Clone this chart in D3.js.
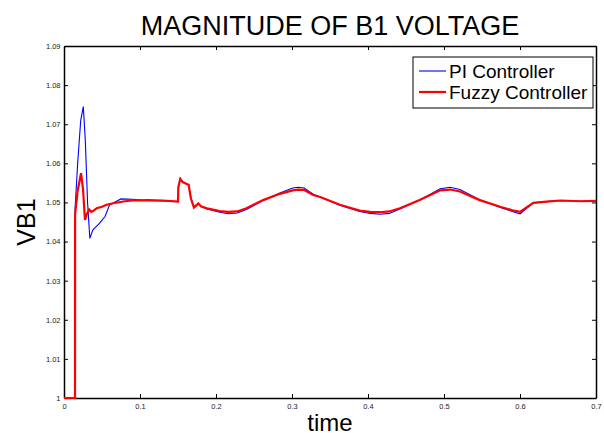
<!DOCTYPE html>
<html lang="en">
<head>
<meta charset="utf-8">
<script src="https://d3js.org/d3.v7.min.js"></script>
<title>Magnitude of B1 voltage</title>
<style>
    body { margin: 0; background: #fff; }
    text { font-family: Arial, "Liberation Sans", sans-serif; }
</style>
</head>
<body>
<div id="container"></div>
<script>
    // values
    var xTicks = [0, 0.1, 0.2, 0.3, 0.4, 0.5, 0.6, 0.7];
    var yTicks = [1, 1.01, 1.02, 1.03, 1.04, 1.05, 1.06, 1.07, 1.08, 1.09];

    var piTime = [0, 0.0145, 0.0146, 0.018, 0.022, 0.0254, 0.028, 0.031, 0.034, 0.038, 0.046, 0.054,
        0.060, 0.066, 0.075, 0.090, 0.110, 0.130, 0.150, 0.1505, 0.153, 0.156, 0.1615, 0.164, 0.167,
        0.171, 0.1767, 0.180, 0.188, 0.205, 0.216, 0.228, 0.240, 0.262, 0.284, 0.301, 0.308, 0.316,
        0.328, 0.337, 0.363, 0.389, 0.403, 0.416, 0.428, 0.442, 0.468, 0.495, 0.508, 0.521, 0.547,
        0.574, 0.590, 0.600, 0.6175, 0.635, 0.653, 0.680, 0.700];
    var piVolt = [1, 1, 1.0486, 1.060, 1.071, 1.0745, 1.066, 1.050, 1.0408, 1.043, 1.0445, 1.0464,
        1.0494, 1.0500, 1.0509, 1.0508, 1.0505, 1.0504, 1.0502, 1.0540, 1.0562, 1.0553, 1.0547, 1.0545, 1.051,
        1.0489, 1.0498, 1.0491, 1.0483, 1.0475, 1.0471, 1.0473, 1.0482, 1.0505, 1.0524, 1.0537, 1.0539, 1.0537,
        1.0521, 1.0514, 1.0493, 1.0477, 1.0472, 1.0470, 1.0472, 1.0483, 1.0506, 1.0535, 1.0539, 1.0533, 1.0507,
        1.0487, 1.0477, 1.0471, 1.0499, 1.0502, 1.0505, 1.0503, 1.0504];

    var fuzzyTime = [0, 0.0145, 0.0146, 0.018, 0.0224, 0.025, 0.0276, 0.030, 0.033, 0.036, 0.038, 0.043,
        0.050, 0.056, 0.065, 0.080, 0.090, 0.110, 0.130, 0.150, 0.1505, 0.153, 0.156, 0.1615, 0.164, 0.167,
        0.171, 0.1767, 0.180, 0.188, 0.205, 0.216, 0.228, 0.240, 0.262, 0.284, 0.301, 0.308, 0.316,
        0.328, 0.337, 0.363, 0.389, 0.403, 0.416, 0.428, 0.442, 0.468, 0.495, 0.508, 0.521, 0.547,
        0.574, 0.590, 0.600, 0.6175, 0.635, 0.653, 0.680, 0.700];
    var fuzzyVolt = [1, 1, 1.0470, 1.053, 1.0575, 1.0535, 1.0455, 1.0470, 1.0482, 1.0476, 1.0478, 1.0485,
        1.0489, 1.0494, 1.0498, 1.0503, 1.0505, 1.0506, 1.0505, 1.0502, 1.0540, 1.0560, 1.0552, 1.0547, 1.0545, 1.051,
        1.0487, 1.0497, 1.0490, 1.0485, 1.0478, 1.0476, 1.0477, 1.0485, 1.0506, 1.0522, 1.0531, 1.0533, 1.0532,
        1.0519, 1.0514, 1.0494, 1.0479, 1.0476, 1.0475, 1.0477, 1.0485, 1.0506, 1.0531, 1.0533, 1.0528, 1.0506,
        1.0489, 1.0480, 1.0476, 1.0499, 1.0502, 1.0505, 1.0503, 1.0504];

    var margin = {top: 46, right: 8, bottom: 35, left: 64},
        width = 604 - margin.left - margin.right,
        height = 433 - margin.top - margin.bottom;

    var root = d3.select("#container")
        .append("svg")
        .attr("width", 604)
        .attr("height", 433);
    var svg = root.append("g")
        .attr("transform", "translate(" + margin.left + "," + margin.top + ")");

    var x = d3.scaleLinear().domain([0, 0.7]).range([0, width]);
    var y = d3.scaleLinear().domain([1, 1.09]).range([height, 0]);

    var fmt = function(d) { return d3.format("")(+d.toFixed(2)); };

    // MATLAB style inward ticks on all four sides
    svg.append("g")
        .attr("transform", "translate(0," + height + ")")
        .call(d3.axisBottom(x).tickValues(xTicks).tickFormat(fmt).tickSizeInner(-4).tickSizeOuter(0).tickPadding(5.5));
    svg.append("g")
        .call(d3.axisTop(x).tickValues(xTicks).tickFormat("").tickSizeInner(-4).tickSizeOuter(0));
    svg.append("g")
        .call(d3.axisLeft(y).tickValues(yTicks).tickFormat(fmt).tickSizeInner(-4).tickSizeOuter(0).tickPadding(3.5));
    svg.append("g")
        .attr("transform", "translate(" + width + ",0)")
        .call(d3.axisRight(y).tickValues(yTicks).tickFormat("").tickSizeInner(-4).tickSizeOuter(0));

    svg.selectAll(".domain").attr("stroke", "#000").attr("stroke-width", 1.5);
    svg.selectAll(".tick line").attr("stroke", "#000");
    svg.selectAll(".tick text").attr("font-size", 7.5).attr("fill", "#222")
        .style("font-family", "Arial, 'Liberation Sans', sans-serif");

    var line = d3.line()
        .x(function(d) { return x(d[0]); })
        .y(function(d) { return y(d[1]); });

    var piData = d3.zip(piTime, piVolt);
    var fuzzyData = d3.zip(fuzzyTime, fuzzyVolt);

    svg.append("path")
        .datum(piData)
        .attr("d", line)
        .attr("fill", "none")
        .attr("stroke", "#0000ff")
        .attr("stroke-width", 1.1);

    svg.append("path")
        .datum(fuzzyData)
        .attr("d", line)
        .attr("fill", "none")
        .attr("stroke", "#ff0000")
        .attr("stroke-width", 2.2);

    // title and axis labels
    root.append("text")
        .attr("x", margin.left + width / 2)
        .attr("y", 35)
        .attr("text-anchor", "middle")
        .attr("font-size", 27)
        .text("MAGNITUDE OF B1 VOLTAGE");

    root.append("text")
        .attr("x", margin.left + width / 2)
        .attr("y", 431)
        .attr("text-anchor", "middle")
        .attr("font-size", 24)
        .text("time");

    root.append("text")
        .attr("transform", "translate(35," + (margin.top + height / 2) + ") rotate(-90)")
        .attr("text-anchor", "middle")
        .attr("font-size", 25)
        .text("VB1");

    // legend
    var legend = root.append("g").attr("transform", "translate(413,57)");
    legend.append("rect")
        .attr("width", 180)
        .attr("height", 51)
        .attr("fill", "#fff")
        .attr("stroke", "#000")
        .attr("stroke-width", 1);
    var entries = [
        {name: "PI Controller", color: "#0000ff", w: 1.1},
        {name: "Fuzzy Controller", color: "#ff0000", w: 2.2}
    ];
    entries.forEach(function(e, i) {
        var cy = 14 + i * 21;
        legend.append("line")
            .attr("x1", 6).attr("x2", 33)
            .attr("y1", cy).attr("y2", cy)
            .attr("stroke", e.color)
            .attr("stroke-width", e.w);
        legend.append("text")
            .attr("x", 36)
            .attr("y", cy + 6.5)
            .attr("font-size", 19)
            .text(e.name);
    });
</script>
</body>
</html>
